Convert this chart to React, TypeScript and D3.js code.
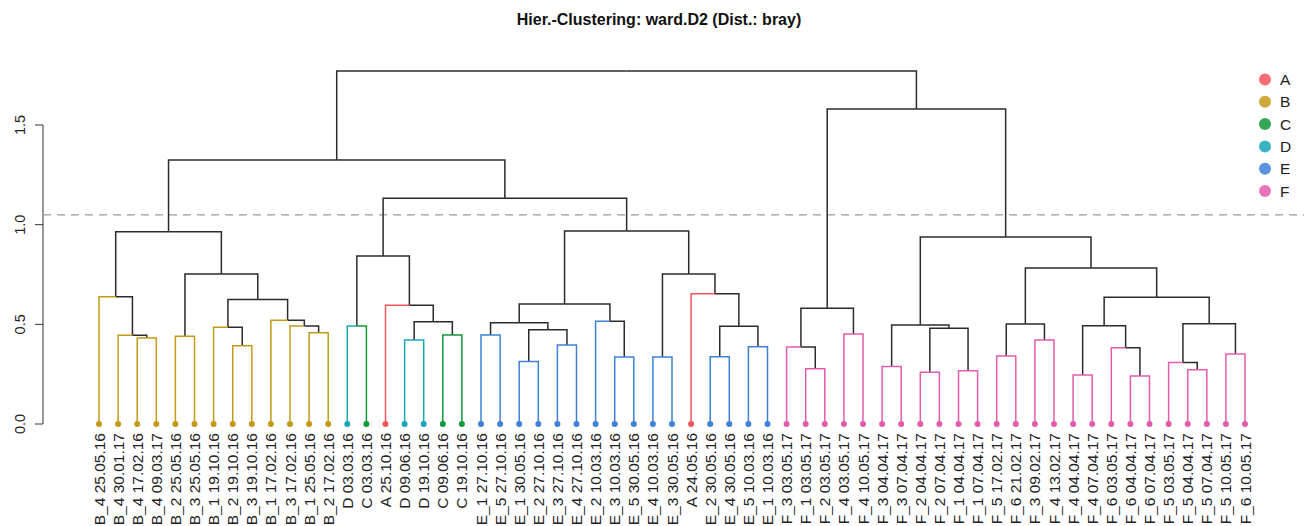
import React, { useEffect } from "react";
import * as d3 from "d3";

const title = "Hier.-Clustering: ward.D2 (Dist.: bray)";

const leafLabels = [
  "B_4 25.05.16", "B_4 30.01.17", "B_4 17.02.16", "B_4 09.03.17", "B_2 25.05.16",
  "B_3 25.05.16", "B_1 19.10.16", "B_2 19.10.16", "B_3 19.10.16", "B_1 17.02.16",
  "B_3 17.02.16", "B_1 25.05.16", "B_2 17.02.16", "D 03.03.16", "C 03.03.16",
  "A 25.10.16", "D 09.06.16", "D 19.10.16", "C 09.06.16", "C 19.10.16",
  "E_1 27.10.16", "E_5 27.10.16", "E_1 30.05.16", "E_2 27.10.16", "E_3 27.10.16",
  "E_4 27.10.16", "E_2 10.03.16", "E_3 10.03.16", "E_5 30.05.16", "E_4 10.03.16",
  "E_3 30.05.16", "A 24.05.16", "E_2 30.05.16", "E_4 30.05.16", "E_5 10.03.16",
  "E_1 10.03.16", "F_3 03.05.17", "F_1 03.05.17", "F_2 03.05.17", "F_4 03.05.17",
  "F_4 10.05.17", "F_3 04.04.17", "F_3 07.04.17", "F_2 04.04.17", "F_2 07.04.17",
  "F_1 04.04.17", "F_1 07.04.17", "F_5 17.02.17", "F_6 21.02.17", "F_3 09.02.17",
  "F_4 13.02.17", "F_4 04.04.17", "F_4 07.04.17", "F_6 03.05.17", "F_6 04.04.17",
  "F_6 07.04.17", "F_5 03.05.17", "F_5 04.04.17", "F_5 07.04.17", "F_5 10.05.17",
  "F_6 10.05.17",
];

// hclust-style merge matrix: negative = leaf (1-based), positive = earlier merge (1-based)
const merges: [number, number][] = [
  [-3, -4], [-2, 1], [-1, 2], [-5, -6], [-8, -9], [-7, 5], [-12, -13], [-11, 7], [-10, 8], [6, 9],
  [4, 10], [3, 11], [-14, -15], [-17, -18], [-19, -20], [14, 15], [-16, 16], [13, 17], [-21, -22], [-23, -24],
  [-25, -26], [20, 21], [19, 22], [-28, -29], [-27, 24], [23, 25], [-30, -31], [-33, -34], [-35, -36], [28, 29],
  [-32, 30], [27, 31], [26, 32], [18, 33], [12, 34], [-38, -39], [-37, 36], [-40, -41], [37, 38], [-42, -43],
  [-44, -45], [-46, -47], [41, 42], [40, 43], [-48, -49], [-50, -51], [45, 46], [-52, -53], [-55, -56], [-54, 49],
  [48, 50], [-58, -59], [-57, 52], [-60, -61], [53, 54], [51, 55], [47, 56], [44, 57], [39, 58], [35, 59],
];

const mergeHeights = [
  0.431, 0.445, 0.639, 0.44, 0.393, 0.485, 0.458, 0.492, 0.52, 0.624,
  0.753, 0.965, 0.492, 0.421, 0.447, 0.513, 0.596, 0.843, 0.447, 0.313,
  0.396, 0.473, 0.508, 0.336, 0.515, 0.602, 0.336, 0.338, 0.388, 0.49,
  0.654, 0.753, 0.968, 1.132, 1.325, 0.277, 0.386, 0.452, 0.581, 0.288,
  0.259, 0.267, 0.48, 0.497, 0.341, 0.421, 0.502, 0.246, 0.241, 0.383,
  0.493, 0.272, 0.308, 0.351, 0.503, 0.636, 0.783, 0.938, 1.58, 1.771,
];

const cutHeight = 1.049;
const yTicks = [0, 0.5, 1.0, 1.5];
const groups = ["A", "B", "C", "D", "E", "F"];
const groupColors = ["#F2555B", "#C39A17", "#12993A", "#16A6B8", "#3F80D8", "#E35CAC"];

const W = 1304;
const H = 526;
const FONT = "'Liberation Sans', Arial, sans-serif";
const TREE_COLOR = "#2b2b2b";

type Node = { x: number; h: number; leaf: string | null };

export default function App() {
  useEffect(() => {
    document.body.style.margin = "0";
  }, []);

  const x = d3.scaleLinear().domain([0, leafLabels.length - 1]).range([99, 1245]);
  const y = d3.scaleLinear().domain([0, 1.5]).range([424, 125]);
  const color = d3.scaleOrdinal<string, string>().domain(groups).range(groupColors);
  const groupOf = (lab: string) => lab.charAt(0);

  const leaves: Node[] = leafLabels.map((lab, i) => ({ x: x(i), h: 0, leaf: groupOf(lab) }));
  const nodes: Node[] = [];
  const get = (id: number) => (id < 0 ? leaves[-id - 1] : nodes[id - 1]);
  const segments: { d: string; c: string }[] = [];
  merges.forEach(([a, b], i) => {
    const A = get(a);
    const B = get(b);
    const n: Node = { x: (A.x + B.x) / 2, h: mergeHeights[i], leaf: null };
    nodes.push(n);
    [A, B].forEach((c) => {
      const col = c.leaf ? color(c.leaf) : TREE_COLOR;
      const p = d3.path();
      p.moveTo(n.x, y(n.h));
      p.lineTo(c.x, y(n.h));
      p.lineTo(c.x, y(c.h));
      segments.push({ d: p.toString(), c: col });
    });
  });
  // draw black first, coloured leaf edges on top
  segments.sort((s1, s2) => (s1.c === TREE_COLOR ? 0 : 1) - (s2.c === TREE_COLOR ? 0 : 1));

  return (
    <svg width={W} height={H} style={{ display: "block", background: "#fff" }} fontFamily={FONT}>
      <text x={659} y={25} textAnchor="middle" fontWeight="bold" fontSize={16} fill="#111">
        {title}
      </text>
      {/* y axis */}
      <line x1={43} x2={43} y1={y(1.5)} y2={y(0)} stroke="#333" strokeWidth={1} />
      {yTicks.map((t) => (
        <g key={t}>
          <line x1={35} x2={43} y1={y(t)} y2={y(t)} stroke="#333" strokeWidth={1} />
          <text
            transform={`translate(20,${y(t)}) rotate(-90)`}
            textAnchor="middle"
            dominantBaseline="central"
            fontSize={14.5}
            fill="#222"
          >
            {t.toFixed(1)}
          </text>
        </g>
      ))}
      {/* cut line */}
      <line x1={43} x2={W} y1={y(cutHeight)} y2={y(cutHeight)} stroke="#9a9a9a" strokeWidth={1.3} strokeDasharray="8,6" />
      {/* tree */}
      {segments.map((s, i) => (
        <path key={i} d={s.d} fill="none" stroke={s.c} strokeWidth={1.5} />
      ))}
      {/* leaf dots and labels */}
      {leafLabels.map((lab, i) => (
        <g key={lab + i}>
          <circle cx={x(i)} cy={y(0)} r={3} fill={color(groupOf(lab))} />
          <text
            transform={`translate(${x(i)},433) rotate(-90)`}
            textAnchor="end"
            dominantBaseline="central"
            fontSize={15.5}
            fill="#222"
          >
            {lab}
          </text>
        </g>
      ))}
      {/* legend */}
      {groups.map((g, i) => (
        <g key={g}>
          <circle cx={1265} cy={79.5 + i * 22.3} r={6} fill={color(g)} opacity={0.85} />
          <text x={1280} y={79.5 + i * 22.3} dominantBaseline="central" fontSize={15.5} fill="#222">
            {g}
          </text>
        </g>
      ))}
    </svg>
  );
}
